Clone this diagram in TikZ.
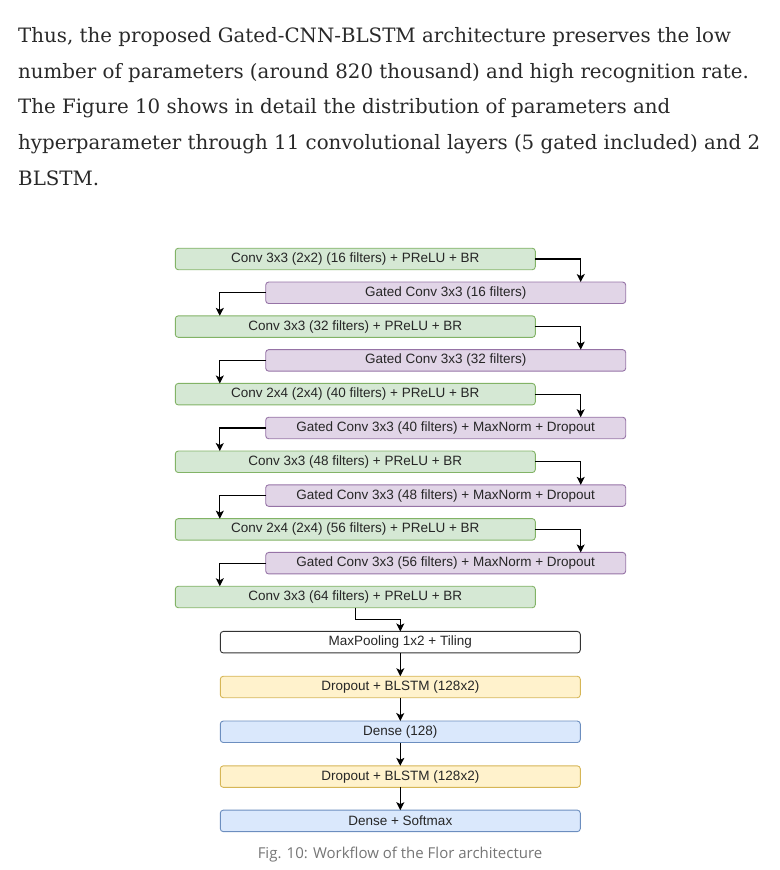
\documentclass[tikz,border=0pt]{standalone}
\usepackage{fontspec}
\newfontfamily\boxfont{Liberation Sans}
\newfontfamily\capfont{Open Sans}
\newfontfamily\parafont{DejaVu Serif}
\usetikzlibrary{positioning, arrows.meta}

\definecolor{convfill}{HTML}{D5E8D4}
\definecolor{convline}{HTML}{82B366}
\definecolor{gatefill}{HTML}{E1D5E7}
\definecolor{gateline}{HTML}{9673A6}
\definecolor{lstmfill}{HTML}{FFF2CC}
\definecolor{lstmline}{HTML}{D6B656}
\definecolor{fcfill}{HTML}{DAE8FC}
\definecolor{fcline}{HTML}{6C8EBF}
\definecolor{bodytext}{HTML}{292929}
\definecolor{capgray}{HTML}{757575}

\tikzset{
  layer/.style={draw, rounded corners=3pt, minimum width=360pt, minimum height=21.5pt,
    inner sep=0pt, outer sep=0pt, line width=0.9pt, text=black!85,
    font=\boxfont\fontsize{13.5}{16}\selectfont},
  convbox/.style={layer, fill=convfill, draw=convline},
  gatedbox/.style={layer, fill=gatefill, draw=gateline},
  poolbox/.style={layer, fill=white, draw=black!80},
  lstmbox/.style={layer, fill=lstmfill, draw=lstmline},
  densebox/.style={layer, fill=fcfill, draw=fcline},
  flow/.style={-{Stealth[length=8pt,width=8pt,inset=2pt]}, line width=1.1pt},
  para/.style={anchor=base west, inner sep=0pt, text=bodytext,
    font=\parafont\fontsize{19.8}{24}\selectfont}
}

\begin{document}
\begin{tikzpicture}[x=1pt,y=1pt]
\useasboundingbox (0,0) rectangle (779,870);

% paragraph above the figure
\foreach \txt [count=\i] in {
  {Thus, the proposed Gated-CNN-BLSTM architecture preserves the low},
  {number of parameters (around 820 thousand) and high recognition rate.},
  {The Figure 10 shows in detail the distribution of parameters and},
  {hyperparameter through 11 convolutional layers (5 gated included) and 2},
  {BLSTM.}}
  \node[para] (line\i) at (18,{870-42.7-(\i-1)*35.6}) {\txt};

% convolutional part
\node[convbox] (conv1) at (355.3,611) {Conv 3x3 (2x2) (16 filters) + PReLU + BR};
\node[gatedbox, below=12.3pt of conv1, xshift=90.4pt] (gate1) {Gated Conv 3x3 (16 filters)};
\node[convbox, below=12.3pt of gate1, xshift=-90.4pt] (conv2) {Conv 3x3 (32 filters) + PReLU + BR};
\node[gatedbox, below=12.3pt of conv2, xshift=90.4pt] (gate2) {Gated Conv 3x3 (32 filters)};
\node[convbox, below=12.3pt of gate2, xshift=-90.4pt] (conv3) {Conv 2x4 (2x4) (40 filters) + PReLU + BR};
\node[gatedbox, below=12.3pt of conv3, xshift=90.4pt] (gate3) {Gated Conv 3x3 (40 filters) + MaxNorm + Dropout};
\node[convbox, below=12.3pt of gate3, xshift=-90.4pt] (conv4) {Conv 3x3 (48 filters) + PReLU + BR};
\node[gatedbox, below=12.3pt of conv4, xshift=90.4pt] (gate4) {Gated Conv 3x3 (48 filters) + MaxNorm + Dropout};
\node[convbox, below=12.3pt of gate4, xshift=-90.4pt] (conv5) {Conv 2x4 (2x4) (56 filters) + PReLU + BR};
\node[gatedbox, below=12.3pt of conv5, xshift=90.4pt] (gate5) {Gated Conv 3x3 (56 filters) + MaxNorm + Dropout};
\node[convbox, below=12.3pt of gate5, xshift=-90.4pt] (conv6) {Conv 3x3 (64 filters) + PReLU + BR};

% recurrent part
\node[poolbox, below=23.7pt of conv6, xshift=45pt] (pool) {MaxPooling 1x2 + Tiling};
\node[lstmbox, below=23.3pt of pool] (lstm1) {Dropout + BLSTM (128x2)};
\node[densebox, below=23.3pt of lstm1] (fc1) {Dense (128)};
\node[lstmbox, below=23.3pt of fc1] (lstm2) {Dropout + BLSTM (128x2)};
\node[densebox, below=22.8pt of lstm2] (fc2) {Dense + Softmax};

\node[font=\capfont\fontsize{15}{18}\selectfont, text=capgray] (caption) at (400,15)
  {Fig. 10: Workflow of the Flor architecture};

\foreach \i/\j in {1/2,2/3,3/4,4/5,5/6} {
  \draw[flow] (conv\i.east) -| ([xshift=-45pt]gate\i.north east);
  \draw[flow] (gate\i.west) -| ([xshift=44.5pt]conv\j.north west);
}
\draw[flow] (conv6.south) -- ++(0,-11.5pt) -| (pool.north);
\draw[flow] (pool) -- (lstm1);
\draw[flow] (lstm1) -- (fc1);
\draw[flow] (fc1) -- (lstm2);
\draw[flow] (lstm2) -- (fc2);
\end{tikzpicture}
\end{document}
